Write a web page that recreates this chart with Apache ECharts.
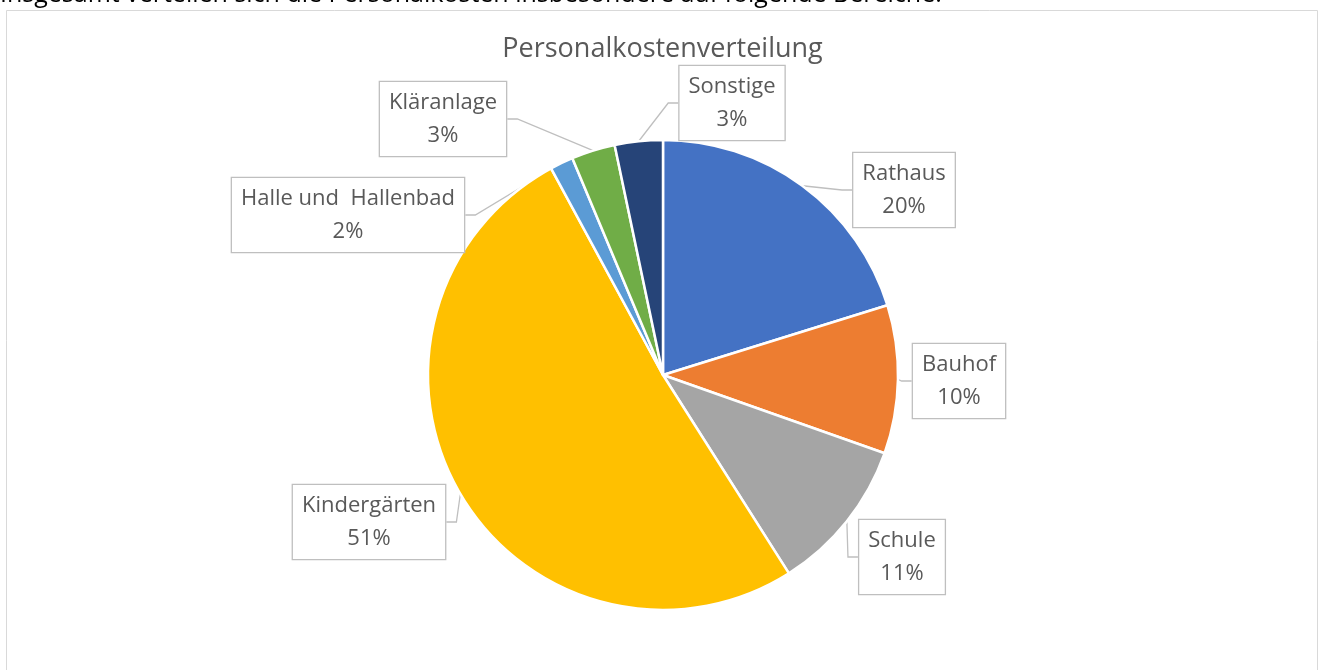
<!DOCTYPE html>
<html>
<head>
<meta charset="utf-8">
<script src="https://cdn.jsdelivr.net/npm/echarts@6/dist/echarts.min.js"></script>
<style>
html,body{margin:0;padding:0;background:#fff;}
#chart{width:1325px;height:670px;}
</style>
</head>
<body>
<div id="chart"></div>
<script>
const chartTitle = 'Personalkostenverteilung';
const introText = 'Insgesamt verteilen sich die Personalkosten insbesondere auf folgende Bereiche:';
const categories = ['Rathaus', 'Bauhof', 'Schule', 'Kindergärten', 'Halle und  Hallenbad', 'Kläranlage', 'Sonstige'];
const values = [20.2, 10.2, 10.6, 51.1, 1.6, 3.0, 3.3];
const colors = ['#4472C4', '#ED7D31', '#A5A5A5', '#FFC000', '#5B9BD5', '#70AD47', '#264478'];

// label box centres (layout only)
const labelPos = [[904,190],[959,381],[902,557],[369,522],[348,215],[443,119],[732,103]];

const total = values.reduce((a,b)=>a+b,0);
const chart = echarts.init(document.getElementById('chart'), null, {renderer:'canvas'});
const FONT = '"Open Sans", Lato, sans-serif';

chart.setOption({
  animation: false,
  backgroundColor: '#fff',
  title: {
    text: chartTitle,
    left: 'center',
    top: 31,
    textStyle: {fontFamily: FONT, fontSize: 27, fontWeight: 'normal', color: '#595959'}
  },
  graphic: [
    {type:'rect', shape:{x:6.5, y:10.5, width:1311, height:700}, style:{fill:'none', stroke:'#d9d9d9', lineWidth:1}, z:-1},
    {type:'text', left: 0, top: -18, style:{text: introText, font: '25px ' + FONT, fill:'#000'}}
  ],
  series: [{
    type: 'pie',
    center: [663, 375],
    radius: 235,
    startAngle: 90,
    clockwise: true,
    data: categories.map((c,i)=>({name:c, value:values[i], itemStyle:{color:colors[i]}})),
    itemStyle: {borderColor:'#fff', borderWidth:2.5},
    label: {
      show: true,
      position: 'outside',
      formatter: p => p.name + '\n' + Math.round(p.value/total*100) + '%',
      fontFamily: FONT,
      fontSize: 22,
      color: '#595959',
      lineHeight: 33,
      align: 'center',
      backgroundColor: '#fff',
      borderColor: '#bfbfbf',
      borderWidth: 1.3,
      padding: [4, 9, 4, 9]
    },
    labelLine: {show: true, length: 15, length2: 10, lineStyle: {color:'#bfbfbf', width:1.3}},
    labelLayout: p => ({x: labelPos[p.dataIndex][0], y: labelPos[p.dataIndex][1], align:'center', verticalAlign:'middle'}),
    emphasis: {disabled: true}
  }]
});
</script>
</body>
</html>
